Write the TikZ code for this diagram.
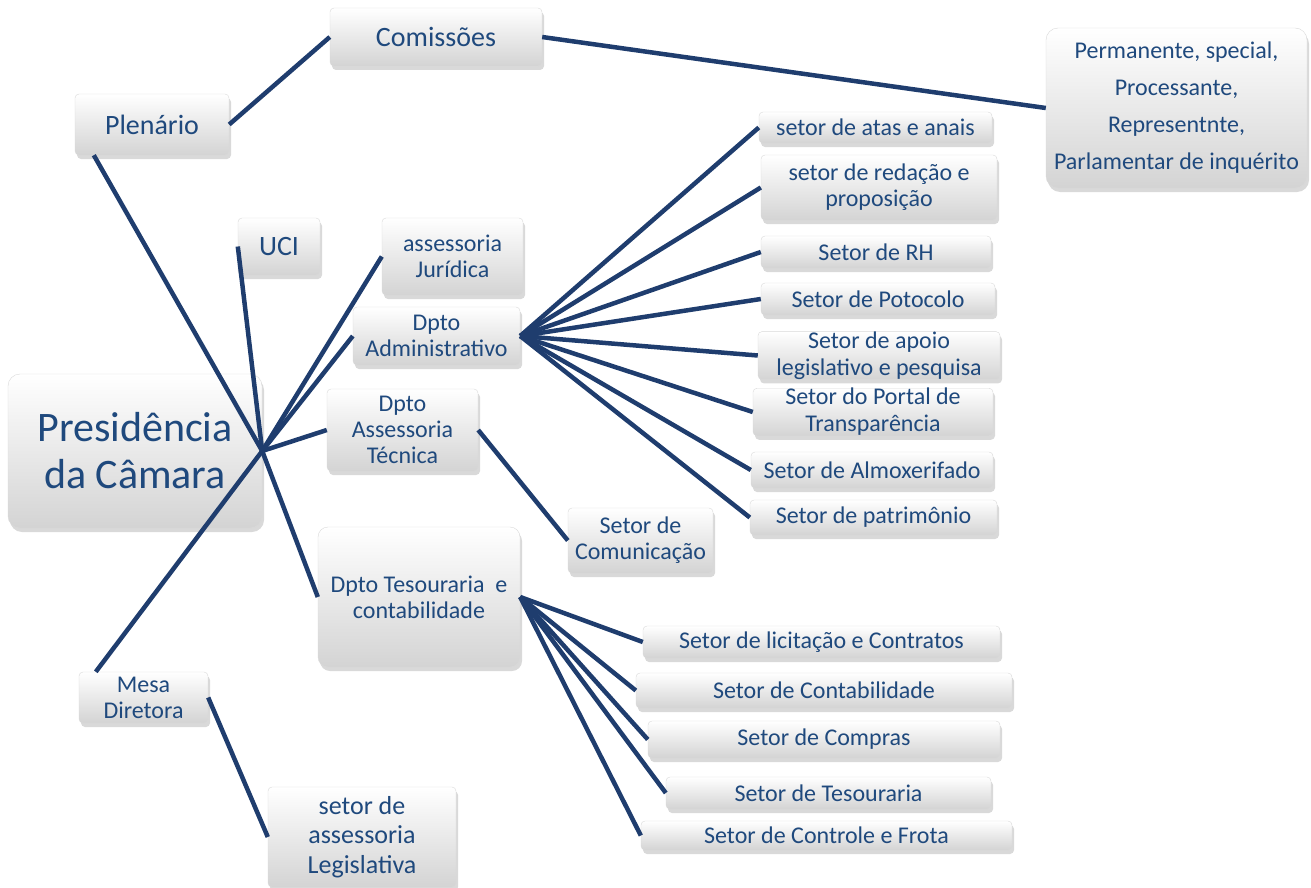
\documentclass[tikz,border=0pt]{standalone}
\usepackage{fontspec}
\setmainfont{Carlito}
\usepackage{xcolor}
\usepackage{tikz}
\usetikzlibrary{calc, shadows}
\definecolor{txtblue}{HTML}{1F497D}
\definecolor{lineblue}{HTML}{1F3D6E}

\begin{document}
\begin{tikzpicture}[x=1pt, y=-1pt,
  box/.style={draw=black!15, rounded corners=4pt, top color=white, middle color=black!3,
    bottom color=black!17,
    drop shadow={shadow xshift=2pt, shadow yshift=-4pt, opacity=0.3},
    align=center, text=txtblue, inner sep=0pt, font=\fontsize{24}{26}\selectfont},
  link/.style={draw=lineblue, line width=4.5pt}]
  \useasboundingbox (0,0) rectangle (1311,888);

  \node[box, minimum width=254pt, minimum height=154pt, rounded corners=12pt,
    font=\fontsize{42}{47}\selectfont] (pres) at (135,451) {Presidência\\da Câmara};
  \node[box, minimum width=154pt, minimum height=61pt, font=\fontsize{28}{32}\selectfont]
    (plen) at (152,124.5) {Plenário};
  \node[box, minimum width=212pt, minimum height=58pt, font=\fontsize{28}{32}\selectfont]
    (com) at (436,37) {Comissões};
  \node[box, minimum width=261pt, minimum height=160pt, rounded corners=12pt,
    font=\fontsize{24}{37}\selectfont] (perm) at (1176.5,108)
    {Permanente, special,\\Processante,\\Representnte,\\Parlamentar de inquérito};
  \node[box, minimum width=82pt, minimum height=57pt, font=\fontsize{28}{32}\selectfont]
    (uci) at (279,246.5) {UCI};
  \node[box, minimum width=141pt, minimum height=77pt] (jur) at (452.5,256.5) {assessoria\\Jurídica};
  \node[box, minimum width=167pt, minimum height=58pt] (admin) at (436.5,336) {Dpto\\Administrativo};
  \node[box, minimum width=151pt, minimum height=82pt] (tec) at (402.5,430) {Dpto\\Assessoria\\Técnica};
  \node[box, minimum width=202pt, minimum height=140pt, rounded corners=10pt]
    (tes) at (419,597) {Dpto Tesouraria\ \ e\\contabilidade};
  \node[box, minimum width=145pt, minimum height=65pt] (comu) at (640.5,540.5) {Setor de\\Comunicação};
  \node[box, minimum width=129pt, minimum height=51pt] (mesa) at (143.5,697.5) {Mesa\\Diretora};
  \node[box, minimum width=188pt, minimum height=100pt, font=\fontsize{26}{29.5}\selectfont]
    (leg) at (362,837) {setor de\\assessoria\\Legislativa};

  \node[box, minimum width=233pt, minimum height=31pt] (atas) at (875.5,127.5) {setor de atas e anais};
  \node[box, minimum width=236pt, minimum height=65pt] (redacao) at (879,187.5) {setor de redação e\\proposição};
  \node[box, minimum width=230pt, minimum height=32pt] (rh) at (876,252) {Setor de RH};
  \node[box, minimum width=234pt, minimum height=32pt] (proto) at (878,299) {Setor de Potocolo};
  \node[box, minimum width=242pt, minimum height=47pt, font=\fontsize{24}{27}\selectfont]
    (apoio) at (879,355.5) {Setor de apoio\\legislativo e pesquisa};
  \node[box, minimum width=240pt, minimum height=46pt, font=\fontsize{24}{27}\selectfont]
    (portal) at (873,412) {Setor do Portal de\\Transparência};
  \node[box, minimum width=242pt, minimum height=36pt] (almox) at (872,470) {Setor de Almoxerifado};
  \node[box, minimum width=247pt, minimum height=35pt] (patri) at (873.5,517.5) {Setor de patrimônio};

  \node[box, minimum width=357pt, minimum height=32pt] (licit) at (821.5,642) {Setor de licitação e Contratos};
  \node[box, minimum width=376pt, minimum height=35pt] (conta) at (824,690.5) {Setor de Contabilidade};
  \node[box, minimum width=352pt, minimum height=37pt] (compras) at (824,739.5) {Setor de Compras};
  \node[box, minimum width=325pt, minimum height=32pt] (tesour) at (828.5,793) {Setor de Tesouraria};
  \node[box, minimum width=371pt, minimum height=29pt] (frota) at (826.5,835.5) {Setor de Controle e Frota};

  \draw[link] (plen.east) -- (com.west);
  \draw[link] (com.east) -- (perm.west);
  \draw[link] (pres.east) -- ($(plen.south west)+(19,0)$);
  \draw[link] (pres.east) -- ($(mesa.north west)+(17,0)$);
  \foreach \n in {uci,jur,admin,tec,tes}
    \draw[link] (pres.east) -- (\n.west);
  \foreach \n in {atas,redacao,rh,proto,apoio,portal,almox,patri}
    \draw[link] (admin.east) -- (\n.west);
  \foreach \n in {licit,conta,compras,tesour,frota}
    \draw[link] (tes.east) -- (\n.west);
  \draw[link] (tec.east) -- (comu.west);
  \draw[link] (mesa.east) -- (leg.west);
\end{tikzpicture}
\end{document}
